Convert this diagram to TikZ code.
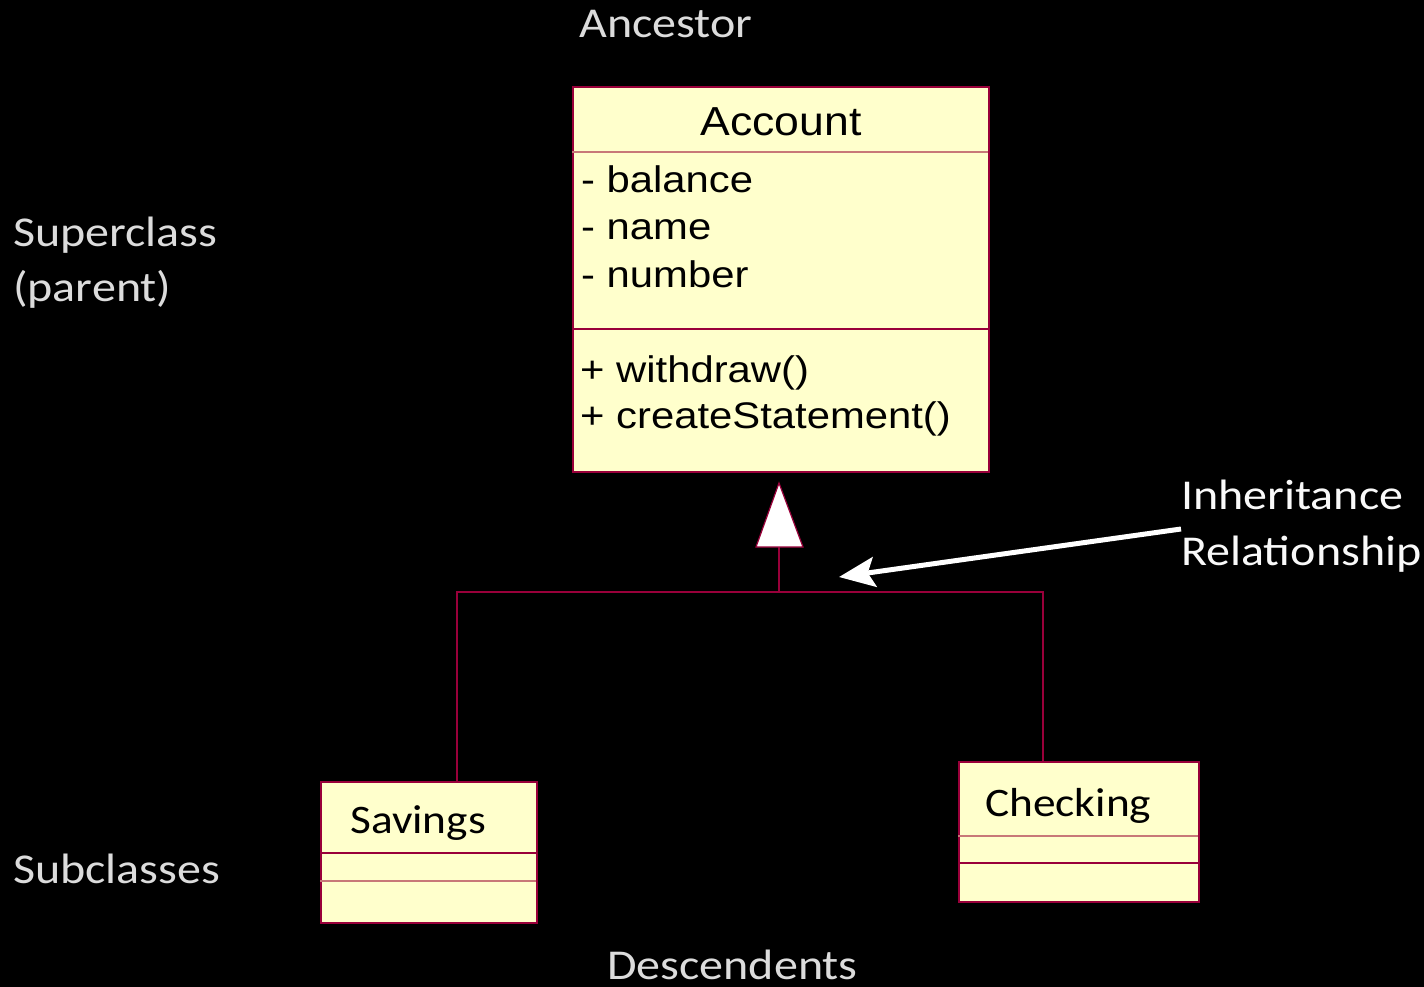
\documentclass[tikz,border=0pt]{standalone}
\usepackage{fontspec}
\usetikzlibrary{arrows.meta}
\newfontfamily\umlfont[FakeStretch=1.1]{Liberation Sans}
\newfontfamily\umlwide[FakeStretch=1.13]{Liberation Sans}
\newfontfamily\slidefont[FakeStretch=1.12]{Carlito}
\newfontfamily\labelfont[FakeStretch=1.13]{Carlito}
\definecolor{umlfill}{HTML}{FFFFCC}
\definecolor{umlline}{HTML}{99003A}
\definecolor{umlsep}{HTML}{C87878}
\definecolor{labelgray}{HTML}{DCDCDC}
\tikzset{
  classbox/.style={draw=umlline, line width=1.6pt, fill=umlfill, inner sep=0pt, anchor=north west},
  sepline/.style={draw=umlline, line width=1.3pt},
  sepsoft/.style={draw=umlsep, line width=1.3pt},
  rel/.style={draw=umlline, line width=1.2pt},
  umltext/.style={inner sep=0pt, anchor=base west, text=black, font=\umlwide\fontsize{37}{44}\selectfont},
  umltitle/.style={inner sep=0pt, anchor=base, text=black, font=\umlfont\fontsize{40.5}{48}\selectfont},
  classname/.style={inner sep=0pt, anchor=base west, text=black, font=\slidefont\fontsize{40.5}{48}\selectfont},
  sidelabel/.style={inner sep=0pt, anchor=base west, text=labelgray, font=\labelfont\fontsize{42.5}{50}\selectfont},
  pointer/.style={draw=white, line width=5pt, -{Stealth[length=36pt,width=30pt,inset=7pt]}}
}
\begin{document}
\begin{tikzpicture}[x=1pt,y=-1pt]
  % page and background
  \fill[black] (0,0) rectangle (1424,987);
  \useasboundingbox (0,0) rectangle (1424,987);

  % superclass Account
  \node[classbox, minimum width=416pt, minimum height=385pt] (account) at (572,86) {};
  \draw[sepsoft] (572,152) -- (988,152);
  \draw[sepline] (572,329) -- (988,329);
  \node[umltitle] (acctitle) at (781,136) {Account};
  \node[umltext] (attr1) at (581,193) {- balance};
  \node[umltext] (attr2) at (581,240) {- name};
  \node[umltext] (attr3) at (581,287) {- number};
  \node[umltext] (op1) at (580,382) {+ withdraw()};
  \node[umltext] (op2) at (580,428) {+ createStatement()};

  % subclass Savings
  \node[classbox, minimum width=216pt, minimum height=141pt] (savings) at (320,781) {};
  \draw[sepline] (320,853) -- (536,853);
  \draw[sepsoft] (320,881) -- (536,881);
  \node[classname] (savname) at (350,833) {Savings};

  % subclass Checking
  \node[classbox, minimum width=240pt, minimum height=140pt] (checking) at (958,761) {};
  \draw[sepsoft] (958,836) -- (1198,836);
  \draw[sepline] (958,863) -- (1198,863);
  \node[classname] (chkname) at (985,816) {Checking};

  % generalisation: hollow triangle and tree of lines
  \coordinate (apex) at (779,483);
  \coordinate (tribase) at (779,547);
  \coordinate (hub) at (779,592);
  \coordinate (savtop) at (457,781);
  \coordinate (chktop) at (1043,761);
  \draw[rel] (tribase) -- (hub);
  \draw[rel] (savtop) |- (hub) -| (chktop);
  \filldraw[fill=white, draw=umlline, line width=1.2pt] (apex) -- (803,547) -- (756,547) -- cycle;

  % side labels
  \node[sidelabel] (ancestor) at (579,38) {Ancestor};
  \node[sidelabel] (superclass) at (13,247) {Superclass};
  \node[sidelabel] (parent) at (13,301) {(parent)};
  \node[sidelabel] (subclasses) at (13,883) {Subclasses};
  \node[sidelabel] (descendents) at (607,979) {Descendents};
  \node[sidelabel, text=white!95!gray] (inherit) at (1181,509) {Inheritance};
  \node[sidelabel, text=white!95!gray] (relship) at (1181,565) {Relationship};

  % pointer to the inheritance lines
  \coordinate (ptrstart) at (1181,529);
  \coordinate (ptrtip) at (839,577);
  \draw[pointer] (ptrstart) -- (ptrtip);
\end{tikzpicture}
\end{document}
